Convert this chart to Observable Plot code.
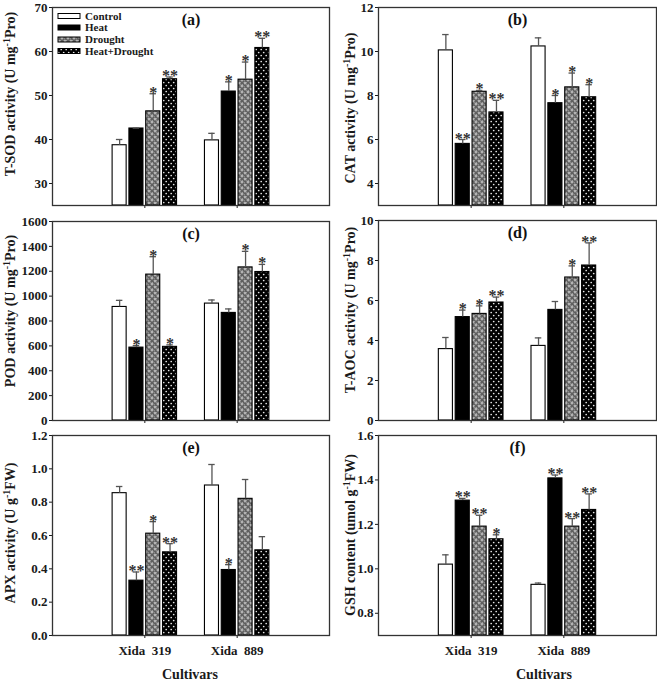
<!DOCTYPE html>
<html>
<head>
<meta charset="utf-8">
<script src="https://cdn.jsdelivr.net/npm/d3@7"></script>
<script src="https://cdn.jsdelivr.net/npm/@observablehq/plot@0.6"></script>
<style>
  html, body { margin: 0; padding: 0; background: #fff; }
  #fig { position: relative; width: 657px; height: 682px; overflow: hidden; }
  .panel { position: absolute; }
  #fig svg text { font-family: 'Liberation Serif', 'Times New Roman', serif !important; font-weight: bold; }
</style>
</head>
<body>
<svg width="0" height="0" style="position:absolute">
  <defs>
    <pattern id="pDrought" width="6" height="6" patternUnits="userSpaceOnUse">
      <rect width="6" height="6" fill="#5f5f5f"/>
      <rect x="0" y="0" width="1" height="1" fill="#8a8a8a"/>
      <rect x="2" y="0" width="1" height="1" fill="#8a8a8a"/>
      <rect x="4" y="2" width="1" height="1" fill="#8a8a8a"/>
      <rect x="0" y="4" width="1" height="1" fill="#8a8a8a"/>
      <rect x="3" y="5" width="1" height="1" fill="#444"/>
      <rect x="5" y="3" width="1" height="1" fill="#444"/>
      <rect x="0.5" y="1.5" width="3" height="1" fill="#cfcfcf"/>
      <rect x="1.5" y="0.5" width="1" height="3" fill="#cfcfcf"/>
      <rect x="3.5" y="4.5" width="3" height="1" fill="#cfcfcf"/>
      <rect x="4.5" y="3.5" width="1" height="3" fill="#cfcfcf"/>
      <rect x="-2.5" y="4.5" width="3" height="1" fill="#cfcfcf"/>
      <rect x="4.5" y="-2.5" width="1" height="3" fill="#cfcfcf"/>
    </pattern>
    <pattern id="pHD" width="5" height="6" patternUnits="userSpaceOnUse">
      <rect width="5" height="6" fill="#000"/>
      <circle cx="1.2" cy="1.5" r="0.85" fill="#e8e8e8"/>
      <circle cx="3.7" cy="4.5" r="0.85" fill="#e8e8e8"/>
    </pattern>
  </defs>
</svg>
<div id="fig"></div>
<script>
// ---------- data ----------
const cultivars = ["Xida 319", "Xida 889"];
const treatments = ["Control", "Heat", "Drought", "Heat+Drought"];

// (a) T-SOD
const sodMean = [38.7, 42.5, 46.4, 53.7, 39.8, 50.9, 53.6, 60.8];
const sodErr  = [1.3, 0.1, 4.0, 0.5, 1.6, 2.2, 4.0, 2.2];
const sodSig  = ["", "", "*", "**", "", "*", "*", "**"];
const sodTicks = [30, 40, 50, 60, 70];

// (b) CAT
const catMean = [10.05, 5.8, 8.17, 7.23, 10.23, 7.65, 8.37, 7.92];
const catErr  = [0.72, 0.2, 0.06, 0.55, 0.39, 0.35, 0.65, 0.57];
const catSig  = ["", "**", "*", "**", "", "*", "*", "*"];
const catTicks = [4, 6, 8, 10, 12];

// (c) POD
const podMean = [913, 586, 1173, 592, 940, 865, 1231, 1194];
const podErr  = [53, 16, 144, 16, 29, 32, 129, 61];
const podSig  = ["", "*", "*", "*", "", "", "*", "*"];
const podTicks = [0, 200, 400, 600, 800, 1000, 1200, 1400, 1600];

// (d) T-AOC
const aocMean = [3.57, 5.17, 5.33, 5.9, 3.73, 5.53, 7.15, 7.75];
const aocErr  = [0.58, 0.35, 0.4, 0.27, 0.4, 0.42, 0.58, 1.13];
const aocSig  = ["", "*", "*", "**", "", "", "*", "**"];
const aocTicks = [0, 2, 4, 6, 8, 10];

// (e) APX
const apxMean = [0.854, 0.329, 0.611, 0.499, 0.90, 0.393, 0.82, 0.511];
const apxErr  = [0.04, 0.052, 0.072, 0.052, 0.126, 0.032, 0.116, 0.082];
const apxSig  = ["", "**", "*", "**", "", "*", "", ""];
const apxTicks = [0, 0.2, 0.4, 0.6, 0.8, 1.0, 1.2];

// (f) GSH
const gshMean = [1.019, 1.307, 1.19, 1.133, 0.928, 1.407, 1.19, 1.265];
const gshErr  = [0.044, 0.01, 0.051, 0.02, 0.008, 0.015, 0.036, 0.072];
const gshSig  = ["", "**", "**", "*", "", "**", "**", "**"];
const gshTicks = [0.8, 1.0, 1.2, 1.4, 1.6];

// ---------- drawing ----------
const fills = ["#ffffff", "#000000", "url(#pDrought)", "url(#pHD)"];
const FONT = "'Liberation Serif', 'Times New Roman', serif";
const pitch = 0.182, barW = 0.152, cap = 0.035;
const cx = d => d.ci + 1 + (d.tj - 1.5) * pitch;

function makeRows(mean, err, sig) {
  return mean.map((m, k) => ({
    cultivar: cultivars[Math.floor(k / 4)], ci: Math.floor(k / 4),
    treatment: treatments[k % 4], tj: k % 4,
    mean: m, top: m + err[k], sig: sig[k]
  }));
}

const fig = document.getElementById("fig");

function panel(o) {
  const data = makeRows(o.mean, o.err, o.sig);
  const chart = Plot.plot({
    width: o.w, height: o.h,
    marginLeft: o.ml, marginRight: o.mr, marginTop: o.mt, marginBottom: o.mb,
    style: {fontFamily: FONT, fontWeight: "bold", fontSize: "13px", color: "#1a1a1a", background: "transparent", overflow: "visible"},
    x: {domain: [0, 3], ticks: [1, 2], tickFormat: o.showX ? (v => cultivars[v - 1].replace(" ", "  ")) : (() => ""), tickSize: 3, tickPadding: 7, label: null},
    y: {domain: o.domain, ticks: o.ticks, tickFormat: o.fmt, tickSize: 3, tickPadding: 2, label: null},
    marks: [
      ...treatments.map((t, j) => Plot.rectY(data.filter(d => d.tj === j), {
        x1: d => cx(d) - barW / 2, x2: d => cx(d) + barW / 2,
        y1: o.domain[0], y2: "mean",
        fill: fills[j], stroke: "#000", strokeWidth: 1.1
      })),
      Plot.ruleX(data, {x: cx, y1: "mean", y2: "top", stroke: "#555", strokeWidth: 1.3}),
      Plot.ruleY(data, {y: "top", x1: d => cx(d) - cap, x2: d => cx(d) + cap, stroke: "#555", strokeWidth: 1.3}),
      Plot.text(data, {x: cx, y: "top", text: "sig", lineAnchor: "bottom", dy: 4, fontSize: 16, fill: "#333"}),
      Plot.frame({stroke: "#333", strokeWidth: 1.3}),
      Plot.text([o.tag], {text: d => d, frameAnchor: "top", dy: 12, lineAnchor: "middle", fontSize: 16, fill: "#111"})
    ]
  });
  const wrap = document.createElement("div");
  wrap.className = "panel";
  wrap.style.left = o.left + "px";
  wrap.style.top = o.top + "px";
  wrap.appendChild(chart);
  fig.appendChild(wrap);

  const svg = d3.select(chart);
  // y-axis title with superscript
  const t = svg.append("text")
    .attr("transform", `translate(${o.lx},${o.ly}) rotate(-90)`)
    .attr("text-anchor", "middle")
    .attr("font-size", 14)
    .attr("fill", "#1a1a1a");
  t.append("tspan").text(o.label[0]);
  t.append("tspan").attr("dy", -5).attr("font-size", 10).text("-1");
  t.append("tspan").attr("dy", 5).text(o.label[1]);

  if (o.showX) {
    svg.append("text")
      .attr("x", o.cultX).attr("y", o.cultY)
      .attr("text-anchor", "middle").attr("dy", "0.35em")
      .attr("font-size", 14)
      .attr("fill", "#1a1a1a")
      .text("Cultivars");
  }
  return svg;
}

const f1 = d3.format("d"), f2 = d3.format(".1f");

const svgA = panel({mean: sodMean, err: sodErr, sig: sodSig, domain: [25, 70], ticks: sodTicks, fmt: f1, tag: "(a)",
  label: ["T-SOD activity (U mg", "Pro)"], left: 0, top: 0, w: 330, h: 220, ml: 52, mr: 1, mt: 7, mb: 15, lx: 15, ly: 94});
panel({mean: catMean, err: catErr, sig: catSig, domain: [3, 12], ticks: catTicks, fmt: f1, tag: "(b)",
  label: ["CAT activity (U mg", "Pro)"], left: 330, top: 0, w: 327, h: 220, ml: 48, mr: 1, mt: 7, mb: 15, lx: 25, ly: 108});
panel({mean: podMean, err: podErr, sig: podSig, domain: [0, 1600], ticks: podTicks, fmt: f1, tag: "(c)",
  label: ["POD activity (U mg", "Pro)"], left: 0, top: 216, w: 330, h: 220, ml: 52, mr: 1, mt: 5, mb: 16, lx: 15, ly: 95});
panel({mean: aocMean, err: aocErr, sig: aocSig, domain: [0, 10], ticks: aocTicks, fmt: f1, tag: "(d)",
  label: ["T-AOC activity (U mg", "Pro)"], left: 330, top: 215, w: 327, h: 220, ml: 48, mr: 1, mt: 5, mb: 15, lx: 25, ly: 95});
panel({mean: apxMean, err: apxErr, sig: apxSig, domain: [0, 1.2], ticks: apxTicks, fmt: f2, tag: "(e)",
  label: ["APX activity (U g", "FW)"], left: 0, top: 430, w: 330, h: 252, ml: 52, mr: 1, mt: 5, mb: 47, lx: 15, ly: 103,
  showX: true, cultX: 190, cultY: 244});
panel({mean: gshMean, err: gshErr, sig: gshSig, domain: [0.7, 1.6], ticks: gshTicks, fmt: f2, tag: "(f)",
  label: ["GSH content (umol g", "FW)"], left: 330, top: 430, w: 327, h: 252, ml: 48, mr: 1, mt: 5, mb: 47, lx: 25, ly: 105,
  showX: true, cultX: 214, cultY: 244});

// legend inside panel (a)
const lg = svgA.append("g").attr("font-size", 11).attr("fill", "#1a1a1a").attr("text-anchor", "start");
const rowsY = [16, 27.5, 39.5, 51];
treatments.forEach((t, j) => {
  lg.append("rect").attr("x", 58).attr("y", rowsY[j] - 2.5).attr("width", 22).attr("height", 5)
    .attr("fill", fills[j]).attr("stroke", "#000").attr("stroke-width", 1);
  lg.append("text").attr("x", 85).attr("y", rowsY[j]).attr("dy", "0.35em").attr("text-anchor", "start").text(t);
});
</script>
</body>
</html>
